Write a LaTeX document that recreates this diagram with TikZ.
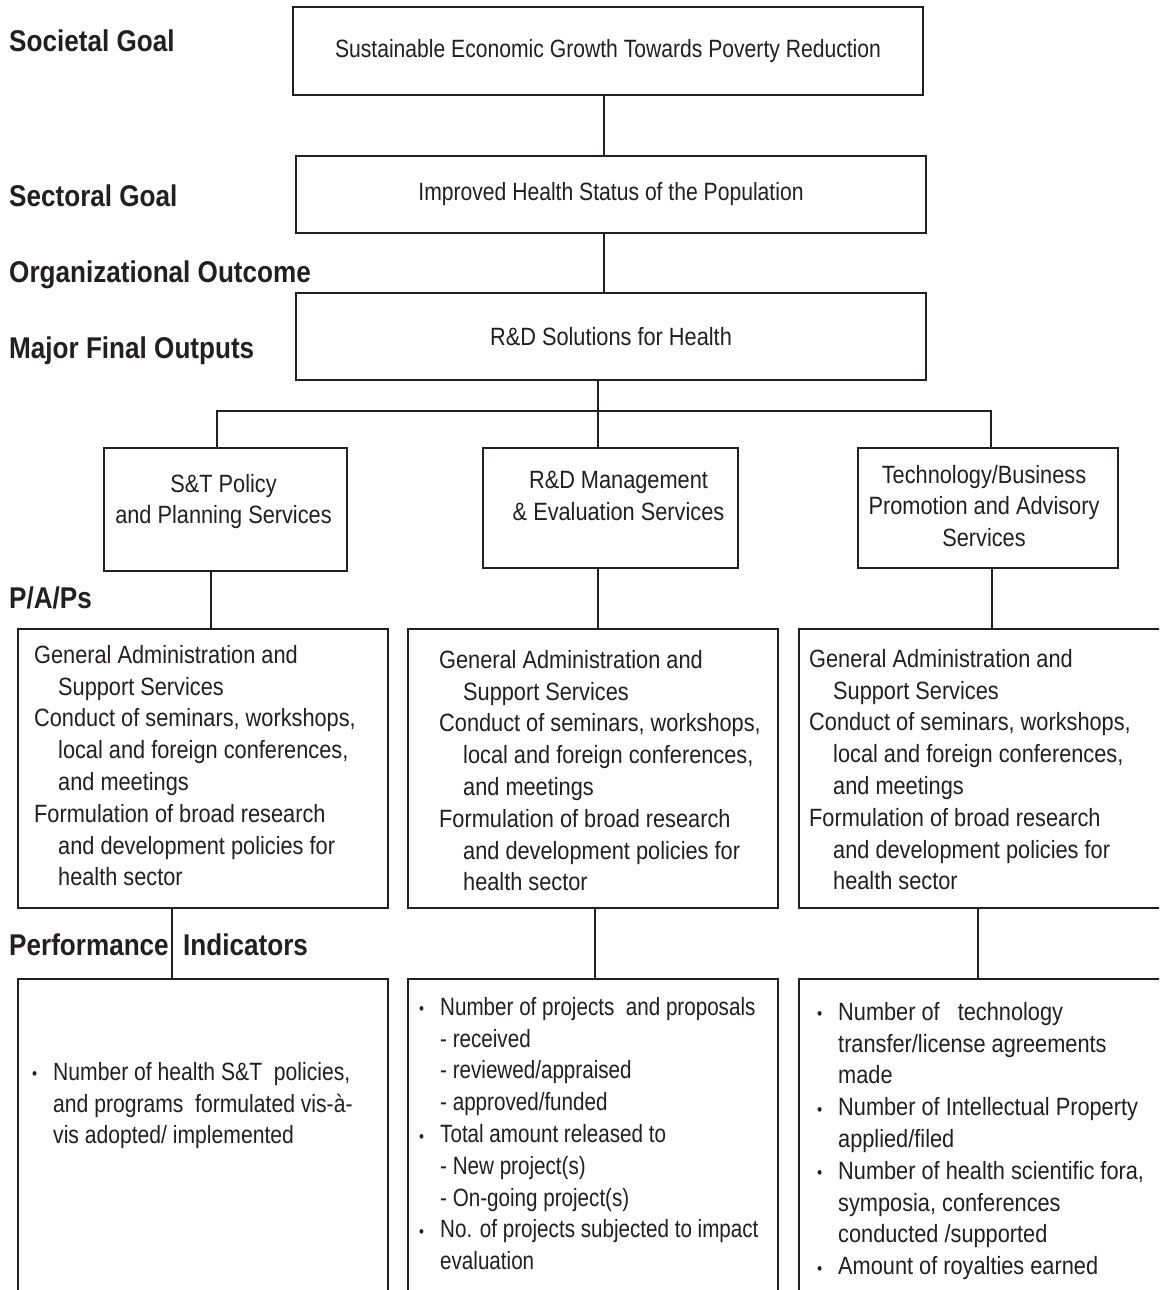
\documentclass[tikz,border=0pt]{standalone}
\usepackage{fontspec}
\setmainfont{Liberation Sans}[FakeStretch=0.87]
\newfontfamily\tightfont{Liberation Sans}[FakeStretch=0.845]
\newfontfamily\tighterfont{Liberation Sans}[FakeStretch=0.825]
\definecolor{ink}{RGB}{35, 31, 32}
\newcommand{\bodyfont}{\fontsize{25}{31.8}\selectfont}
\newcommand{\itembul}{\makebox[21pt][l]{\raisebox{0.5pt}{\fontsize{17}{17}\selectfont\textbullet}}}
\newcommand{\itemind}{\hspace*{21pt}}
\newcommand{\subind}{\hspace*{24pt}}
\tikzset{%
    tierlabel/.style={anchor=base west, inner sep=0pt,
        font=\fontsize{30}{36}\selectfont\bfseries},
    goalbox/.style={draw, line width=2.6pt, inner sep=0pt, outer sep=0pt,
        font=\bodyfont},
    svcbox/.style={goalbox},
    svctext/.style={align=center, inner sep=0pt, font=\bodyfont},
    listbox/.style={draw, line width=2.6pt, anchor=north west,
        inner sep=0pt, outer sep=0pt},
    listtext/.style={anchor=north west, align=left, inner sep=0pt,
        font=\bodyfont},
    link/.style={line width=2.4pt}
}

\begin{document}
\begin{tikzpicture}[x=1pt, y=-1pt, color=ink]

    \useasboundingbox (0, 0) rectangle (1159, 1290);
    \fill[white] (0, 0) rectangle (1159, 1290);
    \clip (0, 0) rectangle (1159, 1290);

    % Tier labels
    \node[tierlabel] (lblsoc) at (9, 52) {Societal Goal};
    \node[tierlabel] (lblsec) at (9, 206) {Sectoral Goal};
    \node[tierlabel] (lblorg) at (9, 282) {Organizational Outcome};
    \node[tierlabel] (lblmfo) at (9, 358) {Major Final Outputs};
    \node[tierlabel] (lblpap) at (9, 608) {P/A/Ps};
    \node[tierlabel] (lblpi) at (9, 955) {Performance\ \ Indicators};

    % Goals and outputs
    \node[goalbox, font=\tightfont\bodyfont, minimum width=630pt, minimum height=88pt]
        (societal) at (608, 51)
        {Sustainable Economic Growth Towards Poverty Reduction};
    \node[goalbox, font=\tightfont\bodyfont, minimum width=630pt, minimum height=77pt]
        (sectoral) at (611, 194.5)
        {Improved Health Status of the Population};
    \node[goalbox, minimum width=630pt, minimum height=87pt] (outputs) at (611, 336.5)
        {R\&D Solutions for Health};

    % Services
    \node[svcbox, minimum width=243pt, minimum height=123pt] (policy) at (225.5, 509.5) {};
    \node[svcbox, minimum width=255pt, minimum height=120pt] (mgmt) at (610.5, 508) {};
    \node[svcbox, minimum width=260pt, minimum height=120pt] (promo) at (988, 508) {};

    \node[svctext] (policytxt) at ([xshift=-2pt, yshift=8pt] policy.center)
        {S\&T Policy\\and Planning Services};
    \node[svctext] (mgmttxt) at ([xshift=8pt, yshift=12pt] mgmt.center)
        {R\&D Management\\\& Evaluation Services};
    \node[svctext] (promotxt) at ([xshift=-4pt, yshift=2pt] promo.center)
        {Technology/Business\\Promotion and Advisory\\Services};

    % P/A/Ps
    \node[listbox, minimum width=370pt, minimum height=279pt] (pap1) at (18, 629) {};
    \node[listbox, minimum width=370pt, minimum height=279pt] (pap2) at (408, 629) {};
    \node[listbox, minimum width=380pt, minimum height=279pt] (pap3) at (799, 629) {};

    \node[listtext] (pap1txt) at ([xshift=16pt, yshift=-16pt] pap1.north west)
        {General Administration and\\\subind Support Services\\
         Conduct of seminars, workshops,\\\subind local and foreign conferences,\\
         \subind and meetings\\Formulation of broad research\\
         \subind and development policies for\\\subind health sector};
    \node[listtext] (pap2txt) at ([xshift=31pt, yshift=-21pt] pap2.north west)
        {General Administration and\\\subind Support Services\\
         Conduct of seminars, workshops,\\\subind local and foreign conferences,\\
         \subind and meetings\\Formulation of broad research\\
         \subind and development policies for\\\subind health sector};
    \node[listtext] (pap3txt) at ([xshift=10pt, yshift=-20pt] pap3.north west)
        {General Administration and\\\subind Support Services\\
         Conduct of seminars, workshops,\\\subind local and foreign conferences,\\
         \subind and meetings\\Formulation of broad research\\
         \subind and development policies for\\\subind health sector};

    % Performance indicators
    \node[listbox, minimum width=370pt, minimum height=340pt] (ind1) at (18, 979) {};
    \node[listbox, minimum width=370pt, minimum height=340pt] (ind2) at (408, 979) {};
    \node[listbox, minimum width=380pt, minimum height=340pt] (ind3) at (799, 979) {};

    \node[listtext, font=\tightfont\bodyfont] (ind1txt)
        at ([xshift=14pt, yshift=-83pt] ind1.north west)
        {\itembul Number of health S\&T\ \ policies,\\
         \itemind and programs\ \ formulated vis-à-\\
         \itemind vis adopted/ implemented};
    \node[listtext, font=\tighterfont\bodyfont] (ind2txt)
        at ([xshift=11pt, yshift=-18pt] ind2.north west)
        {\itembul Number of projects\ \ and proposals\\
         \itemind - received\\
         \itemind - reviewed/appraised\\
         \itemind - approved/funded\\
         \itembul Total amount released to\\
         \itemind - New project(s)\\
         \itemind - On-going project(s)\\
         \itembul No. of projects subjected to impact\\
         \itemind evaluation};
    \node[listtext] (ind3txt) at ([xshift=18pt, yshift=-23pt] ind3.north west)
        {\itembul Number of\ \ \ technology\\
         \itemind transfer/license agreements\\
         \itemind made\\
         \itembul Number of Intellectual Property\\
         \itemind applied/filed\\
         \itembul Number of health scientific fora,\\
         \itemind symposia, conferences\\
         \itemind conducted /supported\\
         \itembul Amount of royalties earned};

    % Connectors
    \foreach \src/\dst/\dx in {societal/sectoral/-4, sectoral/outputs/-7,
                               outputs/mgmt/-13, policy/pap1/-14.5,
                               mgmt/pap2/-12.5, promo/pap3/4}{%
        \draw[link] ([xshift=\dx pt] \src.south) coordinate (top)
            -- (top |- \dst.north);
    };
    \path ([xshift=-13pt] outputs.south) ++(0, 31) coordinate (fork);
    \draw[link] ([xshift=-8.5pt] policy.north) |- (fork)
        -| ([xshift=3pt] promo.north);

    \foreach \src/\dst/\dx in {pap1/ind1/154, pap2/ind2/187, pap3/ind3/179}{%
        \draw[link] ([xshift=\dx pt] \src.south west) coordinate (top)
            -- (top |- \dst.north);
    };

\end{tikzpicture}
\end{document}
